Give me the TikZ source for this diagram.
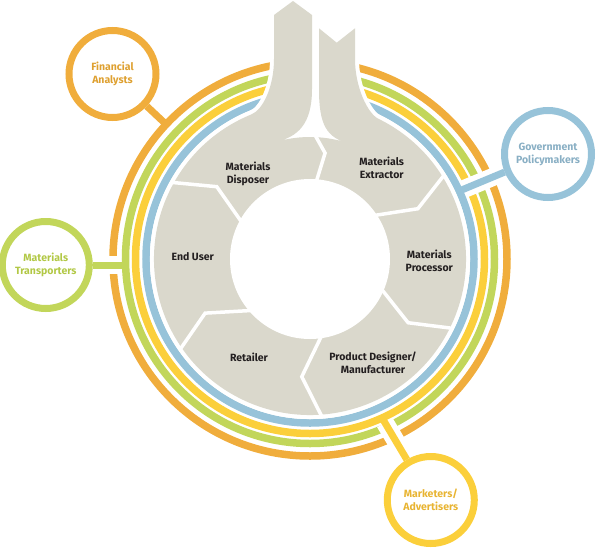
\documentclass[tikz,border=0pt]{standalone}
\usepackage{fontspec}
\setmainfont{Fira Sans}
\usetikzlibrary{calc}
\definecolor{ringorange}{RGB}{240,173,60}
\definecolor{ringgreen}{RGB}{194,214,90}
\definecolor{ringyellow}{RGB}{251,207,59}
\definecolor{ringblue}{RGB}{151,195,217}
\definecolor{cyclegray}{RGB}{218,216,204}
\definecolor{labeldark}{RGB}{35,31,32}
\definecolor{txtorange}{RGB}{222,160,48}
\definecolor{txtgreen}{RGB}{178,200,70}
\definecolor{txtblue}{RGB}{137,175,196}
\definecolor{txtyellow}{RGB}{232,180,50}
\newcommand{\lblfont}{\bfseries\fontsize{10.5}{13}\selectfont}

\begin{document}
\begin{tikzpicture}[x=1pt, y=1pt,
  ring/.style={line width=7.5pt},
  halo/.style={white, line width=18pt},
  conn/.style={line width=7pt},
  sep/.style={white, line width=3.5pt},
  stage/.style={font=\lblfont, text=labeldark, align=center},
  actor/.style={circle, line width=7pt, minimum size=87pt, inner sep=0pt, font=\lblfont, align=center}]
  \useasboundingbox (-310,-291) rectangle (294,259);
  % the four rings
  \draw[ring, ringblue] (0,0) circle (164);
  \draw[ring, ringyellow] (0,0) circle (174.5);
  \draw[ring, ringgreen] (0,0) circle (184.5);
  \draw[ring, ringorange] (0,0) circle (197);
  % actors
  \node[actor, draw=ringorange, text=txtorange] (fin) at (-197.5,185) {Financial\\Analysts};
  \node[actor, draw=ringgreen, text=txtgreen] (trans) at (-264.2,-6) {Materials\\Transporters};
  \node[actor, draw=ringblue, text=txtblue] (gov) at (238,105) {Government\\Policymakers};
  \node[actor, draw=ringyellow, text=txtyellow] (mkt) at (120.8,-241) {Marketers/\\Advertisers};
  \coordinate (fin-end) at (136.9:197);
  \coordinate (trans-end) at (-184.5,-6);
  \coordinate (gov-end) at (24.5:164);
  \coordinate (mkt-end) at (-65.6:174.5);
  % gaps where connectors cross outer rings
  \draw[halo] ($(trans-end)!6pt!(trans)$) -- ($(trans-end)!20pt!(trans)$);
  \draw[halo] ($(gov-end)!5pt!(gov)$) -- ($(gov-end)!42pt!(gov)$);
  \draw[halo] ($(mkt-end)!5.5pt!(mkt)$) -- ($(mkt-end)!32pt!(mkt)$);
  % connectors
  \draw[conn, ringorange] (fin) -- (fin-end);
  \draw[conn, ringgreen] (trans) -- (trans-end);
  \draw[conn, ringblue] (gov) -- (gov-end);
  \draw[conn, ringyellow] (mkt) -- (mkt-end);
  % cycle with the two shafts
  \path[fill=cyclegray, preaction={draw=white, line width=8pt}]
    (-17,258) -- (2,244) -- (2,170) .. controls (2,135) and (-12,122) .. (106.6:122)
    arc[start angle=106.6, end angle=70.9, radius=122]
    .. controls (16,121) and (9,135) .. (9,170) -- (9,230.7) -- (26.7,216.3) -- (45,230.7)
    -- (45,200) .. controls (45,172) and (57.6,145.5) .. (64:156)
    arc[start angle=64, end angle=-248, radius=156]
    .. controls (-47.3,149.1) and (-36,172) .. (-36,200) -- (-36,244) -- cycle;
  \fill[white] (0,0) circle (80);
  % stage borders
  \draw[sep] (34:78) -- (25:119) -- (32:158);
  \draw[sep] (-23:78) -- (-33:117) -- (-26:158);
  \draw[sep] (-81.6:78) -- (-94:118) -- (-85.7:158);
  \draw[sep] (-138.7:78) -- (-152.7:118) -- (-145.2:158);
  \draw[sep] (151.5:78) -- (142.2:118) -- (151:158);
  \draw[sep] (88.5:127) -- (81.9:107) -- (85.3:78);
  % stages
  \node[stage] (disposer) at (-62,85) {Materials\\Disposer};
  \node[stage] (extractor) at (71.7,91) {Materials\\Extractor};
  \node[stage] (processor) at (119.3,-2) {Materials\\Processor};
  \node[stage] (designer) at (63,-103.5) {Product Designer/\\Manufacturer};
  \node[stage] (retailer) at (-61,-98.8) {Retailer};
  \node[stage] (enduser) at (-117.2,2.7) {End User};
\end{tikzpicture}
\end{document}
